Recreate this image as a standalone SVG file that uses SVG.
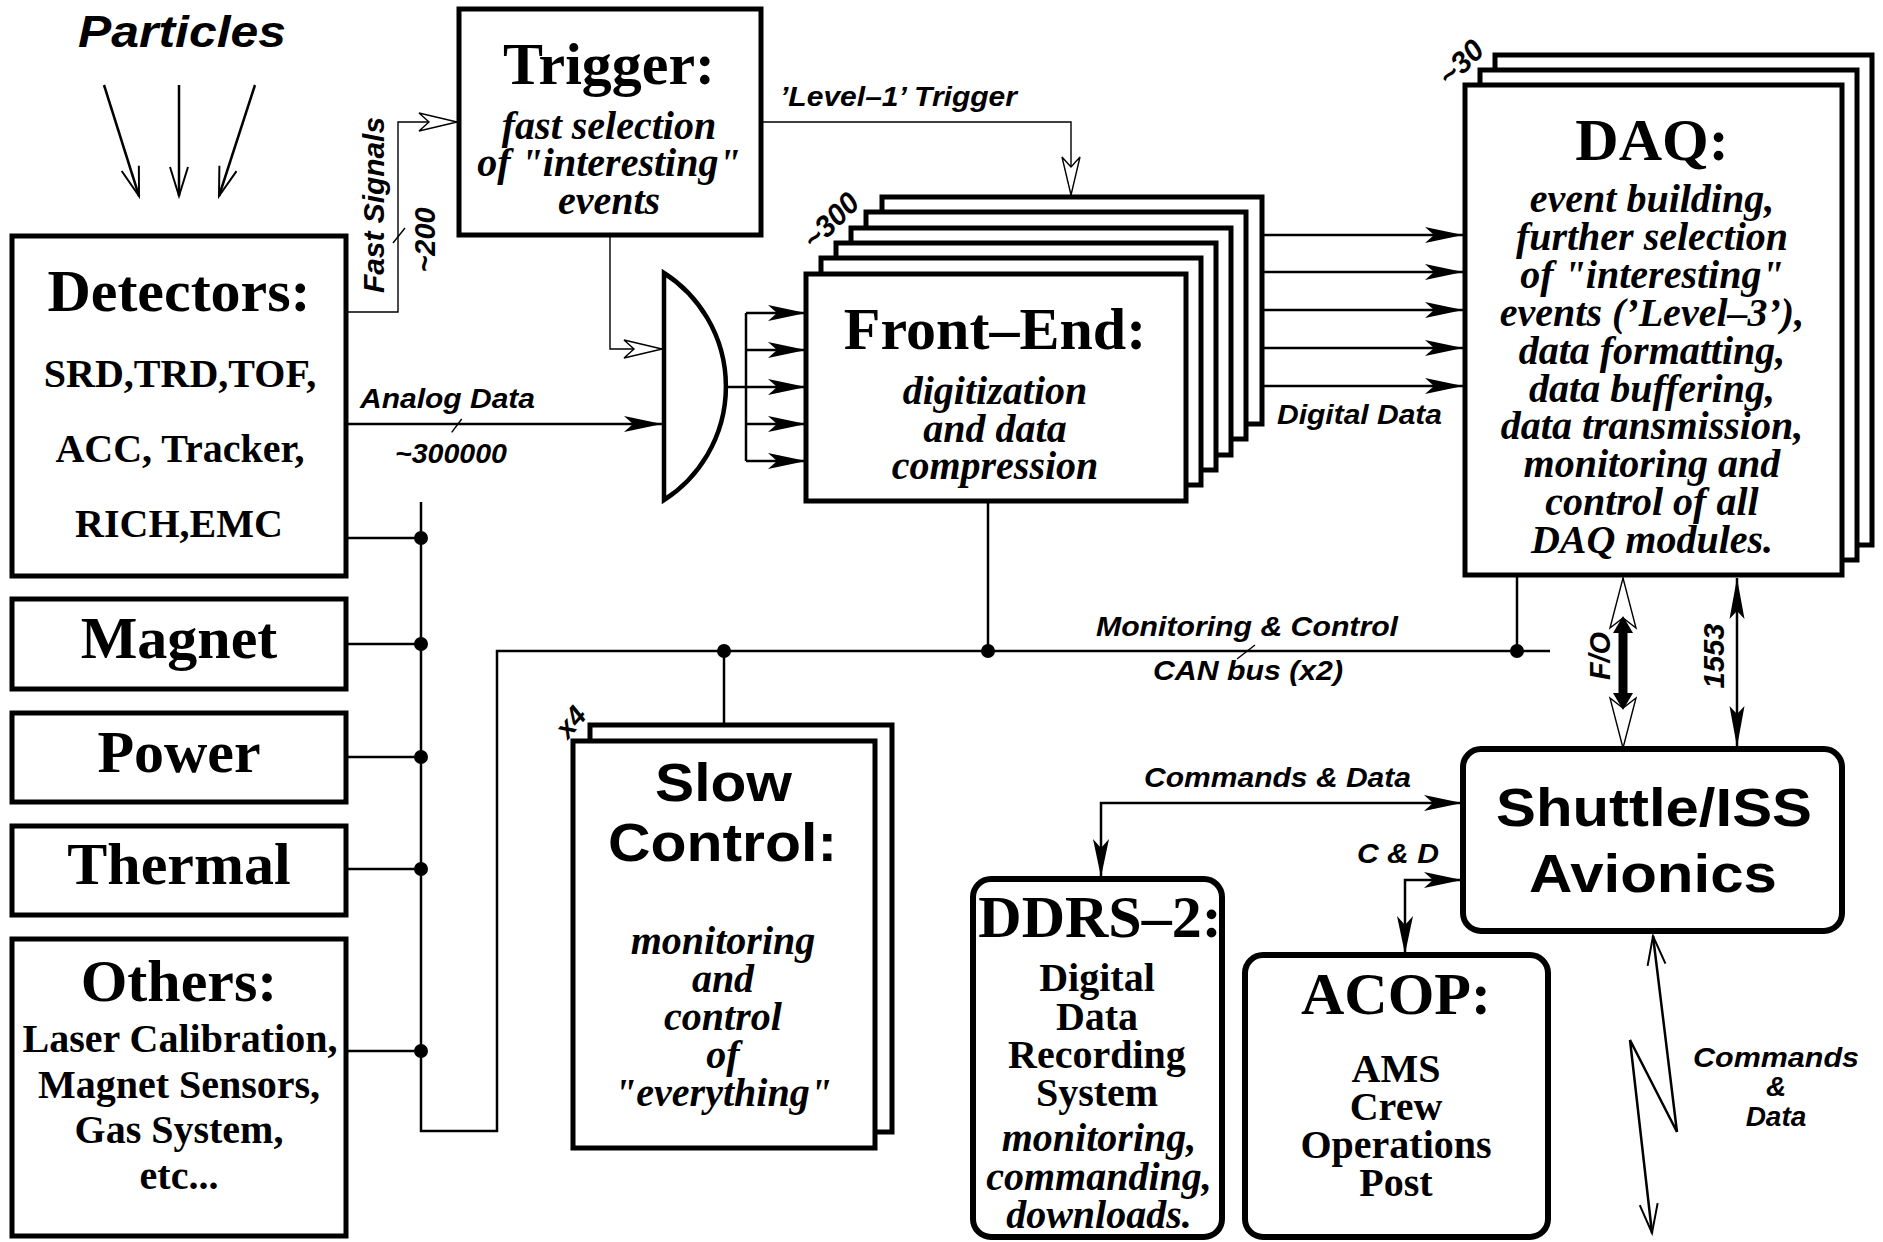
<svg xmlns="http://www.w3.org/2000/svg" width="1883" height="1242" viewBox="0 0 1883 1242">
<style>
.bx{fill:#fff;stroke:#000;stroke-width:5}
.rb{fill:#fff;stroke:#000;stroke-width:6}
.ln{fill:none;stroke:#000;stroke-width:2.5}
.th{fill:none;stroke:#000;stroke-width:1.4}
.dot{fill:#000}
.ser{font-family:"Liberation Serif","Times New Roman",serif;font-weight:bold;fill:#000}
.it{font-style:italic}
.sans{font-family:"Liberation Sans",Arial,sans-serif;font-weight:bold;fill:#000}
.obl{font-style:italic}
.c{text-anchor:middle}
.t60{font-size:60px}
.t40{font-size:40px}
.t26{font-size:28px}
</style>
<defs>
<marker id="af" markerUnits="userSpaceOnUse" markerWidth="40" markerHeight="18" refX="38" refY="8" orient="auto-start-reverse" overflow="visible"><path d="M0,0 L38,8 L0,16 L9,8 Z" fill="#000"/></marker>
<marker id="a2" markerUnits="userSpaceOnUse" markerWidth="42" markerHeight="16" refX="41" refY="7.5" orient="auto-start-reverse" overflow="visible"><path d="M0,0 L41,7.5 L0,15 L8,7.5 Z" fill="#000"/></marker>
<marker id="ah" markerUnits="userSpaceOnUse" markerWidth="41" markerHeight="21" refX="39" refY="10" orient="auto" overflow="visible"><path d="M1,1 L39,10 L1,19 L11,10 Z" fill="#fff" stroke="#000" stroke-width="1.4"/></marker>
<marker id="av" markerUnits="userSpaceOnUse" markerWidth="32" markerHeight="20" refX="29" refY="9" orient="auto-start-reverse" overflow="visible"><path d="M0,0 L29,9 L0,18" fill="none" stroke="#000" stroke-width="2"/></marker>
</defs>
<rect width="1883" height="1242" fill="#fff"/>

<g id="connectors">
  <line class="ln" x1="104" y1="85" x2="139" y2="196" stroke-width="2" marker-end="url(#av)"/>
  <line class="ln" x1="179" y1="85" x2="179" y2="196" stroke-width="2" marker-end="url(#av)"/>
  <line class="ln" x1="255" y1="85" x2="219" y2="196" stroke-width="2" marker-end="url(#av)"/>
  <polyline class="th" points="346,312 398,312 398,122 457,122" marker-end="url(#ah)"/>
  <line class="th" x1="393" y1="243" x2="405" y2="228"/>
  <polyline class="th" points="761,122 1071,122 1071,195" marker-end="url(#ah)"/>
  <polyline class="th" points="610,235 610,349 662,349" marker-end="url(#ah)"/>
  <line class="ln" x1="346" y1="424" x2="662" y2="424" marker-end="url(#af)"/>
  <line class="th" x1="451.7" y1="432.3" x2="461.7" y2="419" stroke-width="2"/>
  <line class="ln" x1="726" y1="387" x2="746" y2="387"/>
  <line class="ln" x1="746" y1="313" x2="746" y2="461"/>
  <line class="ln" x1="746" y1="313" x2="806" y2="313" marker-end="url(#af)"/>
  <line class="ln" x1="746" y1="350" x2="806" y2="350" marker-end="url(#af)"/>
  <line class="ln" x1="746" y1="387" x2="806" y2="387" marker-end="url(#af)"/>
  <line class="ln" x1="746" y1="424" x2="806" y2="424" marker-end="url(#af)"/>
  <line class="ln" x1="746" y1="461" x2="806" y2="461" marker-end="url(#af)"/>
  <line class="ln" x1="1262" y1="235" x2="1463" y2="235" marker-end="url(#af)"/>
  <line class="ln" x1="1262" y1="272" x2="1463" y2="272" marker-end="url(#af)"/>
  <line class="ln" x1="1262" y1="310" x2="1463" y2="310" marker-end="url(#af)"/>
  <line class="ln" x1="1262" y1="348" x2="1463" y2="348" marker-end="url(#af)"/>
  <line class="ln" x1="1262" y1="386" x2="1463" y2="386" marker-end="url(#af)"/>
  <polyline class="ln" points="421,502 421,1131 497,1131 497,651 1550,651"/>
  <line class="ln" x1="346" y1="538" x2="421" y2="538"/>
  <line class="ln" x1="346" y1="644" x2="421" y2="644"/>
  <line class="ln" x1="346" y1="757" x2="421" y2="757"/>
  <line class="ln" x1="346" y1="869" x2="421" y2="869"/>
  <line class="ln" x1="346" y1="1051" x2="421" y2="1051"/>
  <circle class="dot" cx="421" cy="538" r="7"/>
  <circle class="dot" cx="421" cy="644" r="7"/>
  <circle class="dot" cx="421" cy="757" r="7"/>
  <circle class="dot" cx="421" cy="869" r="7"/>
  <circle class="dot" cx="421" cy="1051" r="7"/>
  <line class="ln" x1="724" y1="651" x2="724" y2="724"/>
  <line class="ln" x1="988" y1="501" x2="988" y2="651"/>
  <line class="ln" x1="1517" y1="576" x2="1517" y2="651"/>
  <circle class="dot" cx="724" cy="651" r="7"/>
  <circle class="dot" cx="988" cy="651" r="7"/>
  <circle class="dot" cx="1517" cy="651" r="7"/>
  <line class="th" x1="1237" y1="659" x2="1255" y2="645" stroke-width="2"/>
  <line class="th" x1="1623" y1="578" x2="1623" y2="748"/>
  <rect x="1618.5" y="625" width="9" height="75" fill="#000"/>
  <path d="M1623,578 L1636,628 L1623,618 L1610,628 Z" fill="#fff" stroke="#000" stroke-width="1.4"/>
  <path d="M1623,748 L1636,698 L1623,708 L1610,698 Z" fill="#fff" stroke="#000" stroke-width="1.4"/>
  <path d="M1623,616 L1633,633 L1613,633 Z" fill="#000"/>
  <path d="M1623,710 L1633,693 L1613,693 Z" fill="#000"/>
  <line class="ln" x1="1737" y1="578" x2="1737" y2="747" stroke-width="2" marker-start="url(#a2)" marker-end="url(#a2)"/>
  <polyline class="ln" points="1101,877 1101,803 1462,803" stroke-width="2" marker-start="url(#af)" marker-end="url(#af)"/>
  <polyline class="ln" points="1405,954 1405,880 1462,880" stroke-width="2" marker-start="url(#af)" marker-end="url(#af)"/>
  <polyline class="ln" points="1653,936 1677,1132 1630,1040 1652,1233" stroke-width="2" marker-start="url(#av)" marker-end="url(#av)"/>
</g>

<g id="particles"><text class="sans obl" x="78" y="47" font-size="45" textLength="208" lengthAdjust="spacingAndGlyphs">Particles</text></g>

<g id="trigger">
  <rect class="bx" x="459" y="9" width="302" height="226" stroke-width="4.5"/>
  <text class="ser t60 c" x="609" y="84">Trigger:</text>
  <text class="ser it t40 c" x="609" y="138.5">fast selection</text>
  <text class="ser it t40 c" x="609" y="176">of "interesting"</text>
  <text class="ser it t40 c" x="609" y="213.5">events</text>
</g>

<g id="gate">
  <path d="M664,273 A135,135 0 0 1 664,500 Z" fill="#fff" stroke="#000" stroke-width="4.5"/>
</g>

<g id="detectors">
  <rect class="bx" x="12" y="236" width="334" height="340"/>
  <text class="ser t60 c" x="179" y="311">Detectors:</text>
  <text class="ser t40 c" x="180" y="387">SRD,TRD,TOF,</text>
  <text class="ser t40 c" x="180" y="462">ACC, Tracker,</text>
  <text class="ser t40 c" x="179" y="537">RICH,EMC</text>
</g>
<g id="magnet"><rect class="bx" x="12" y="599" width="334" height="90"/><text class="ser t60 c" x="179" y="658">Magnet</text></g>
<g id="power"><rect class="bx" x="12" y="713" width="334" height="89"/><text class="ser t60 c" x="179" y="772">Power</text></g>
<g id="thermal"><rect class="bx" x="12" y="826" width="334" height="89"/><text class="ser t60 c" x="179" y="884">Thermal</text></g>
<g id="others">
  <rect class="bx" x="12" y="939" width="334" height="297"/>
  <text class="ser t60 c" x="179" y="1001">Others:</text>
  <text class="ser t40 c" x="180" y="1052">Laser Calibration,</text>
  <text class="ser t40 c" x="179" y="1098">Magnet Sensors,</text>
  <text class="ser t40 c" x="179" y="1143">Gas System,</text>
  <text class="ser t40 c" x="179" y="1189">etc...</text>
</g>

<g id="frontend">
  <rect class="bx" x="882" y="197" width="380" height="227" stroke-width="4.5"/>
  <rect class="bx" x="866" y="212" width="380" height="227" stroke-width="4.5"/>
  <rect class="bx" x="851" y="228" width="380" height="227" stroke-width="4.5"/>
  <rect class="bx" x="836" y="243" width="380" height="227" stroke-width="4.5"/>
  <rect class="bx" x="821" y="258" width="380" height="227" stroke-width="4.5"/>
  <rect class="bx" x="806" y="274" width="380" height="227" stroke-width="4.5"/>
  <text class="ser t60 c" x="995" y="349">Front–End:</text>
  <text class="ser it t40 c" x="995" y="403.5">digitization</text>
  <text class="ser it t40 c" x="995" y="441.5">and data</text>
  <text class="ser it t40 c" x="995" y="478.5">compression</text>
  <text class="sans obl" font-size="30" transform="translate(838,228) rotate(-45)" text-anchor="middle" textLength="66" lengthAdjust="spacingAndGlyphs">~300</text>
</g>

<g id="daq">
  <rect class="bx" x="1495" y="55" width="377" height="490" stroke-width="4.5"/>
  <rect class="bx" x="1480" y="70" width="377" height="490" stroke-width="4.5"/>
  <rect class="bx" x="1465" y="85" width="377" height="490" stroke-width="4.5"/>
  <text class="ser t60 c" x="1652" y="160">DAQ:</text>
  <text class="ser it t40 c" x="1652" y="212">event building,</text>
  <text class="ser it t40 c" x="1652" y="250">further selection</text>
  <text class="ser it t40 c" x="1652" y="288">of "interesting"</text>
  <text class="ser it t40 c" x="1652" y="325.5">events (’Level–3’),</text>
  <text class="ser it t40 c" x="1652" y="363.5">data formatting,</text>
  <text class="ser it t40 c" x="1652" y="401.5">data buffering,</text>
  <text class="ser it t40 c" x="1652" y="439">data transmission,</text>
  <text class="ser it t40 c" x="1652" y="477">monitoring and</text>
  <text class="ser it t40 c" x="1652" y="515">control of all</text>
  <text class="ser it t40 c" x="1652" y="553">DAQ modules.</text>
  <text class="sans obl" font-size="30" transform="translate(1468,70) rotate(-45)" text-anchor="middle">~30</text>
</g>

<g id="slowcontrol">
  <rect class="bx" x="590" y="725" width="302" height="407" stroke-width="4.5"/>
  <rect class="bx" x="573" y="741" width="302" height="407" stroke-width="4.5"/>
  <text class="sans" font-size="54" x="655" y="801" textLength="137" lengthAdjust="spacingAndGlyphs">Slow</text>
  <text class="sans" font-size="54" x="608" y="861" textLength="229" lengthAdjust="spacingAndGlyphs">Control:</text>
  <text class="ser it t40 c" x="723" y="954">monitoring</text>
  <text class="ser it t40 c" x="723" y="992">and</text>
  <text class="ser it t40 c" x="723" y="1030">control</text>
  <text class="ser it t40 c" x="723" y="1068">of</text>
  <text class="ser it t40 c" x="723" y="1106">"everything"</text>
  <text class="sans obl" font-size="28" transform="translate(578,728) rotate(-50)" text-anchor="middle">x4</text>
</g>

<g id="shuttle">
  <rect class="rb" x="1463" y="749" width="379" height="182" rx="18"/>
  <text class="sans" font-size="54" x="1496" y="826" textLength="316" lengthAdjust="spacingAndGlyphs">Shuttle/ISS</text>
  <text class="sans" font-size="54" x="1529" y="892" textLength="248" lengthAdjust="spacingAndGlyphs">Avionics</text>
</g>

<g id="ddrs">
  <rect class="rb" x="973" y="879" width="249" height="358" rx="18"/>
  <text class="ser t60 c" x="1100" y="937">DDRS–2:</text>
  <text class="ser t40 c" x="1097" y="991">Digital</text>
  <text class="ser t40 c" x="1097" y="1030">Data</text>
  <text class="ser t40 c" x="1097" y="1068">Recording</text>
  <text class="ser t40 c" x="1097" y="1106">System</text>
  <text class="ser it t40 c" x="1099" y="1151">monitoring,</text>
  <text class="ser it t40 c" x="1099" y="1190">commanding,</text>
  <text class="ser it t40 c" x="1099" y="1228">downloads.</text>
</g>

<g id="acop">
  <rect class="rb" x="1245" y="955" width="303" height="282" rx="18"/>
  <text class="ser t60 c" x="1396" y="1014">ACOP:</text>
  <text class="ser t40 c" x="1396" y="1082">AMS</text>
  <text class="ser t40 c" x="1396" y="1120">Crew</text>
  <text class="ser t40 c" x="1396" y="1158">Operations</text>
  <text class="ser t40 c" x="1396" y="1196">Post</text>
</g>

<g id="labels">
  <text class="sans obl" font-size="30" transform="translate(384,205) rotate(-90)" text-anchor="middle" textLength="176" lengthAdjust="spacingAndGlyphs">Fast Signals</text>
  <text class="sans obl" font-size="30" transform="translate(435,240) rotate(-90)" text-anchor="middle" textLength="65" lengthAdjust="spacingAndGlyphs">~200</text>
  <text class="sans obl t26" x="780" y="106" textLength="237" lengthAdjust="spacingAndGlyphs">’Level–1’ Trigger</text>
  <text class="sans obl t26" x="360" y="408" textLength="175" lengthAdjust="spacingAndGlyphs">Analog Data</text>
  <text class="sans obl t26" x="395" y="463" textLength="112" lengthAdjust="spacingAndGlyphs">~300000</text>
  <text class="sans obl t26" x="1277" y="424" textLength="165" lengthAdjust="spacingAndGlyphs">Digital Data</text>
  <text class="sans obl t26" x="1096" y="636" textLength="302" lengthAdjust="spacingAndGlyphs">Monitoring &amp; Control</text>
  <text class="sans obl t26" x="1153" y="680" textLength="190" lengthAdjust="spacingAndGlyphs">CAN bus (x2)</text>
  <text class="sans obl" font-size="30" transform="translate(1610,656) rotate(-90)" text-anchor="middle" textLength="48" lengthAdjust="spacingAndGlyphs">F/O</text>
  <text class="sans obl" font-size="30" transform="translate(1724,656) rotate(-90)" text-anchor="middle" textLength="65" lengthAdjust="spacingAndGlyphs">1553</text>
  <text class="sans obl t26" x="1144" y="787" textLength="267" lengthAdjust="spacingAndGlyphs">Commands &amp; Data</text>
  <text class="sans obl t26" x="1357" y="863" textLength="82" lengthAdjust="spacingAndGlyphs">C &amp; D</text>
  <text class="sans obl t26" x="1693" y="1067" textLength="166" lengthAdjust="spacingAndGlyphs">Commands</text>
  <text class="sans obl t26 c" x="1776" y="1096">&amp;</text>
  <text class="sans obl t26 c" x="1776" y="1126">Data</text>
</g>
</svg>
